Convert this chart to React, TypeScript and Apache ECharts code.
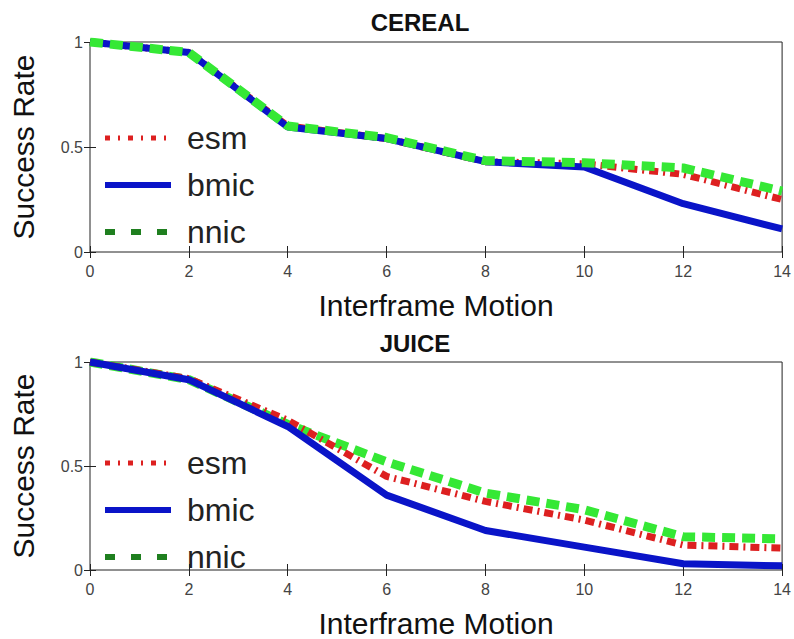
import React, { useEffect, useRef } from "react";
import * as echarts from "echarts";

const xValues = [0, 2, 4, 6, 8, 10, 12, 14];
const xTicks = [0, 2, 4, 6, 8, 10, 12, 14];
const yTicks = [0, 0.5, 1];

const cerealEsm = [1.0, 0.95, 0.6, 0.54, 0.43, 0.42, 0.37, 0.25];
const cerealBmic = [1.0, 0.95, 0.595, 0.54, 0.43, 0.405, 0.23, 0.11];
const cerealNnic = [1.0, 0.95, 0.6, 0.545, 0.435, 0.425, 0.4, 0.29];

const juiceEsm = [1.0, 0.92, 0.72, 0.45, 0.33, 0.24, 0.12, 0.105];
const juiceBmic = [1.0, 0.915, 0.69, 0.36, 0.19, 0.11, 0.03, 0.02];
const juiceNnic = [1.0, 0.915, 0.7, 0.52, 0.37, 0.29, 0.16, 0.15];

const titles = ["CEREAL", "JUICE"];
const seriesNames = ["esm", "bmic", "nnic"];

const RED = "#dd2020";
const BLUE = "#0a14c8";
const GREEN = "#35e835";
const DARKGREEN = "#1f7f1f";

const FONT = "Liberation Sans";

function pairs(vals: number[]) {
  return xValues.map((x, i) => [x, vals[i]]);
}

export default function App() {
  const ref = useRef<HTMLDivElement>(null);
  useEffect(() => {
    if (!ref.current) return;
    const chart = echarts.init(ref.current, undefined, { renderer: "svg" });
    const grids = [
      { left: 90, right: 8, top: 42, height: 210 },
      { left: 90, right: 8, top: 362, height: 209 },
    ].map((g) => ({
      ...g,
      show: true,
      borderColor: "#222",
      borderWidth: 1,
      backgroundColor: "#fff",
    }));

    const tick = { show: true, inside: true, length: 6, lineStyle: { color: "#222" } };
    const xAxes: any[] = [];
    const yAxes: any[] = [];
    [0, 1].forEach((gi) => {
      xAxes.push({
        type: "value",
        gridIndex: gi,
        min: xTicks[0],
        max: xTicks[xTicks.length - 1],
        interval: 2,
        position: "bottom",
        axisLine: { show: false },
        axisTick: tick,
        splitLine: { show: false },
        axisLabel: { fontFamily: FONT, fontSize: 16, color: "#444", margin: 11 },
        name: "Interframe Motion",
        nameLocation: "middle",
        nameGap: 38,
        nameTextStyle: { fontFamily: FONT, fontSize: 30, color: "#111" },
      });
      xAxes.push({
        type: "value",
        gridIndex: gi,
        min: 0,
        max: 14,
        interval: 2,
        position: "top",
        axisLine: { show: false },
        axisTick: tick,
        splitLine: { show: false },
        axisLabel: { show: false },
      });
      yAxes.push({
        type: "value",
        gridIndex: gi,
        min: yTicks[0],
        max: yTicks[yTicks.length - 1],
        interval: 0.5,
        position: "left",
        axisLine: { show: false },
        axisTick: tick,
        splitLine: { show: false },
        axisLabel: { fontFamily: FONT, fontSize: 16, color: "#444", margin: 7 },
        name: "Success Rate",
        nameLocation: "middle",
        nameGap: 52,
        nameTextStyle: { fontFamily: FONT, fontSize: 30, color: "#111" },
      });
      yAxes.push({
        type: "value",
        gridIndex: gi,
        min: 0,
        max: 1,
        interval: 0.5,
        position: "right",
        axisLine: { show: false },
        axisTick: tick,
        splitLine: { show: false },
        axisLabel: { show: false },
      });
    });

    const mk = (name: string, vals: number[], gi: number, style: any, z: number) => ({
      type: "line",
      name,
      xAxisIndex: gi * 2,
      yAxisIndex: gi * 2,
      data: pairs(vals),
      symbol: "none",
      showSymbol: false,
      z,
      lineStyle: style,
      itemStyle: { color: style.color },
    });

    const esmStyle = { color: RED, width: 7, type: [9, 5, 2, 5], cap: "butt" };
    const bmicStyle = { color: BLUE, width: 7, type: "solid" };
    const nnicStyle = { color: GREEN, width: 9, type: [13, 7], cap: "butt" };

    const series = [
      mk("esm", cerealEsm, 0, esmStyle, 2),
      mk("bmic", cerealBmic, 0, bmicStyle, 3),
      mk("nnic", cerealNnic, 0, nnicStyle, 4),
      mk("nnic", juiceNnic, 1, nnicStyle, 2),
      mk("esm", juiceEsm, 1, esmStyle, 3),
      mk("bmic", juiceBmic, 1, bmicStyle, 4),
    ];

    const hidden = { opacity: 0, color: "rgba(0,0,0,0)", borderWidth: 0 };
    const legendData = [
      { name: seriesNames[0], itemStyle: hidden, lineStyle: { color: RED, width: 5, type: [5, 8, 2, 8], cap: "butt" } },
      { name: seriesNames[1], itemStyle: hidden, lineStyle: { color: BLUE, width: 6, type: "solid" } },
      { name: seriesNames[2], itemStyle: hidden, lineStyle: { color: DARKGREEN, width: 6, type: [10, 16], cap: "butt" } },
    ];
    const legendBase = {
      orient: "vertical",
      left: 97,
      itemWidth: 66,
      itemHeight: 20,
      itemGap: 15,
      selectedMode: false,
      data: legendData,
      textStyle: { fontFamily: FONT, fontSize: 32, color: "#222", padding: [0, 0, 0, 11] },
    };

    chart.setOption({
      animation: false,
      backgroundColor: "#fff",
      title: [
        { text: titles[0], left: 415, top: 5, textAlign: "center", textStyle: { fontFamily: FONT, fontSize: 24, fontWeight: "bold", color: "#111" } },
        { text: titles[1], left: 410, top: 326, textAlign: "center", textStyle: { fontFamily: FONT, fontSize: 24, fontWeight: "bold", color: "#111" } },
      ],
      legend: [
        { ...legendBase, top: 117 },
        { ...legendBase, top: 442 },
      ],
      grid: grids,
      xAxis: xAxes,
      yAxis: yAxes,
      series,
    });
    return () => chart.dispose();
  }, []);
  return (
    <div
      ref={ref}
      style={{ position: "fixed", left: 0, top: 0, width: 794, height: 639, background: "#fff" }}
    />
  );
}
